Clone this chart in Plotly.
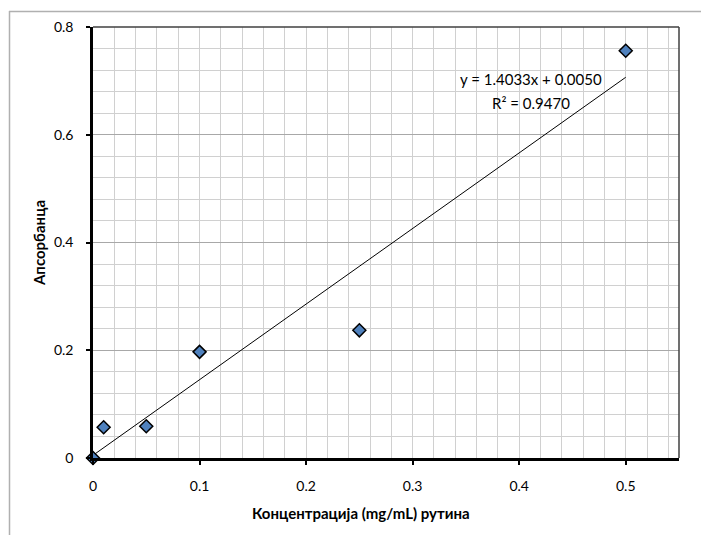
import plotly.graph_objects as go

# Calibration data: rutin concentration vs absorbance
concentration = [0.0, 0.01, 0.05, 0.1, 0.25, 0.5]
absorbance = [0.0, 0.057, 0.059, 0.197, 0.237, 0.756]

# Linear trendline coefficients
slope = 1.4033
intercept = 0.0050
r_squared = 0.9470
trend_x = [0.0, 0.5]
trend_y = [slope * x + intercept for x in trend_x]

x_ticks = [0, 0.1, 0.2, 0.3, 0.4, 0.5]
x_ticklabels = ["0", "0.1", "0.2", "0.3", "0.4", "0.5"]
y_ticks = [0, 0.2, 0.4, 0.6, 0.8]
y_ticklabels = ["0", "0.2", "0.4", "0.6", "0.8"]

FONT = "Lato, 'Open Sans', sans-serif"

W, H = 701, 535
L, R, T, B = 93, 22, 27, 77
pw, ph = W - L - R, H - T - B


def px(xp):
    return (xp - L) / pw


def py(yp):
    return (H - B - yp) / ph


fig = go.Figure()

fig.add_trace(go.Scatter(
    x=trend_x, y=trend_y, mode="lines",
    line=dict(color="black", width=1),
    hoverinfo="skip", showlegend=False,
))

fig.add_trace(go.Scatter(
    x=concentration, y=absorbance, mode="markers",
    marker=dict(symbol="diamond", size=10, color="#4f81bd",
                line=dict(color="black", width=1.5)),
    cliponaxis=False, showlegend=False,
))

# Trendline equation and R² label
fig.add_annotation(
    x=px(531), y=py(79), xref="paper", yref="paper",
    xanchor="center", yanchor="middle",
    text=f"y = {slope:.4f}x + {intercept:.4f}", showarrow=False,
    font=dict(family=FONT, size=15, color="black"),
)
fig.add_annotation(
    x=px(531), y=py(103), xref="paper", yref="paper",
    xanchor="center", yanchor="middle",
    text=f"R² = {r_squared:.4f}", showarrow=False,
    font=dict(family=FONT, size=15, color="black"),
)

# Axis titles
fig.add_annotation(
    x=px(361), y=py(513), xref="paper", yref="paper",
    text="<b>Концентрација (mg/mL) рутина</b>", showarrow=False,
    xanchor="center", yanchor="middle",
    font=dict(family=FONT, size=15, color="black"),
)
fig.add_annotation(
    x=px(39), y=py(243), xref="paper", yref="paper",
    text="<b>Апсорбанца</b>", showarrow=False, textangle=-90,
    xanchor="center", yanchor="middle",
    font=dict(family=FONT, size=15, color="black"),
)

# Chart-area frame (left and top edges)
fig.add_shape(type="line", xref="paper", yref="paper",
              x0=px(9.5), x1=px(9.5), y0=py(11), y1=py(540),
              line=dict(color="#b0b0b0", width=1.5))
fig.add_shape(type="line", xref="paper", yref="paper",
              x0=px(9), x1=px(705), y0=py(11.5), y1=py(11.5),
              line=dict(color="#b0b0b0", width=1.5))

# Plot-area top/right border
fig.add_shape(type="line", xref="paper", yref="paper",
              x0=0, x1=1, y0=1, y1=1, line=dict(color="#404040", width=1.5))
fig.add_shape(type="line", xref="paper", yref="paper",
              x0=1, x1=1, y0=0, y1=1, line=dict(color="#404040", width=1.5))

fig.update_xaxes(
    range=[0, 0.55], tickvals=x_ticks, ticktext=x_ticklabels,
    showgrid=True, gridcolor="#d0d0d0", gridwidth=1,
    minor=dict(dtick=0.02, tick0=0, showgrid=True, gridcolor="#d0d0d0", gridwidth=1),
    showline=True, linecolor="black", linewidth=2.5,
    ticks="outside", ticklen=4, tickwidth=2, tickcolor="black",
    zeroline=False, ticklabelstandoff=9,
    tickfont=dict(family=FONT, size=14, color="black"),
)
fig.update_yaxes(
    range=[0, 0.8], tickvals=y_ticks, ticktext=y_ticklabels,
    showgrid=True, gridcolor="#a8a8a8", gridwidth=1,
    minor=dict(dtick=0.04, tick0=0, showgrid=True, gridcolor="#d0d0d0", gridwidth=1),
    showline=True, linecolor="black", linewidth=2.5,
    ticks="outside", ticklen=4, tickwidth=2, tickcolor="black",
    zeroline=False, ticklabelstandoff=10,
    tickfont=dict(family=FONT, size=14, color="black"),
)

fig.update_layout(
    width=W, height=H,
    margin=dict(l=L, r=R, t=T, b=B),
    paper_bgcolor="white", plot_bgcolor="white",
    showlegend=False,
)

fig.write_html("out.html")
